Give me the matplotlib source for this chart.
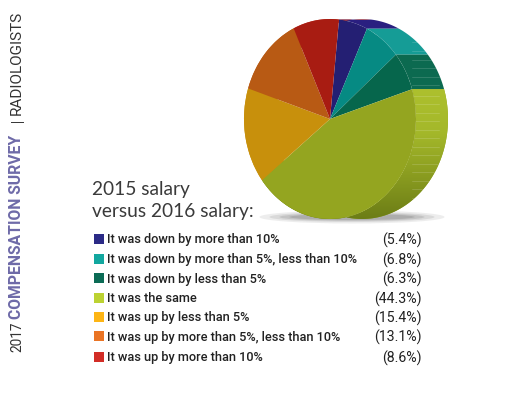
import numpy as np
import matplotlib
matplotlib.use("Agg")
import matplotlib.pyplot as plt
from matplotlib.patches import Polygon, Ellipse, Rectangle

labels = ["It was down by more than 10%",
          "It was down by more than 5%, less than 10%",
          "It was down by less than 5%",
          "It was the same",
          "It was up by less than 5%",
          "It was up by more than 5%, less than 10%",
          "It was up by more than 10%"]
values = [5.4, 6.8, 6.3, 44.3, 15.4, 13.1, 8.6]
value_labels = ["(5.4%)", "(6.8%)", "(6.3%)", "(44.3%)", "(15.4%)", "(13.1%)", "(8.6%)"]
legend_colors = ["#2b2a86", "#12a79f", "#0b6b55", "#bcd232", "#fdb515", "#ea7424", "#d22d26"]
face_colors = ["#241f73", "#068a83", "#06664c", "#94a520", "#c8900c", "#b85a14", "#a81c12"]
side_colors = ["#2a1f80", "#159c96", "#0c6a50", "#94a520", "#c8900c", "#b85a14", "#c0392b"]

W, H = 528, 393
cx, cy, rx, ry = 330, 119, 86, 100
depth = 32 / rx
start = 84

fig = plt.figure(figsize=(W / 100, H / 100), dpi=100)

# page axes, in pixels
ax = fig.add_axes([0, 0, 1, 1])
ax.set_xlim(0, W)
ax.set_ylim(H, 0)
ax.axis("off")

# shadow below the pie
for w, h, a in zip([185, 165, 145, 125], [13, 10, 8, 6], [0.1, 0.13, 0.16, 0.2]):
    ax.add_patch(Ellipse((352, 217), w, h, color="#555555", alpha=a, lw=0))

# pie axes, radius 1 is the face ellipse
pax = fig.add_axes([0, 0, 1, 1], facecolor="none")

edges = start - 360 * np.cumsum([0] + values) / sum(values)
for i in range(len(values)):
    t = np.radians(np.linspace(edges[i], edges[i + 1], 100))
    x, y = np.cos(t), np.sin(t)
    pts = np.vstack([np.c_[x, y], np.c_[x + depth, y][::-1]])
    poly = Polygon(pts, closed=True, color=side_colors[i], lw=0)
    pax.add_patch(poly)
    # the lime side gets darker towards the bottom
    if i == 3:
        grad = np.linspace(0, 1, 200).reshape(-1, 1)
        cmap = matplotlib.colors.LinearSegmentedColormap.from_list(
            "lime", ["#adc02e", "#a4b82a", "#8a9c20", "#6c7d16"])
        im = pax.imshow(grad, extent=[-1, 1 + depth, -1, 0.3], cmap=cmap,
                        origin="upper", aspect="auto", zorder=1)
        im.set_clip_path(poly)
    # faint light dashes on the side
    if i in (1, 2, 3):
        for yy in np.arange(y.min() + 0.04, y.max(), 0.085):
            ln, = pax.plot([0.95, 1 + depth - 0.1], [yy, yy], color="white", lw=0.4,
                           alpha=0.25, zorder=1.5)
            ln.set_clip_path(poly)

wedges, _ = pax.pie(values, colors=face_colors, startangle=start, counterclock=False,
                    wedgeprops={"linewidth": 0})
for w in wedges:
    w.set_zorder(2)
pax.set_aspect("auto")
pax.set_xlim((0 - cx) / rx, (W - cx) / rx)
pax.set_ylim((cy - H) / ry, cy / ry)
pax.axis("off")

# title
ax.text(92, 190, "2015 salary", fontsize=13.8, family=["Lato", "DejaVu Sans"],
        color="#3a3a3a", va="center")
ax.text(92, 211, "versus 2016 salary:", fontsize=13.8, family=["Lato", "DejaVu Sans"],
        color="#3a3a3a", va="center")

# legend
rows = [239, 259, 278, 298, 317, 336, 357]
for i in range(len(labels)):
    ax.add_patch(Rectangle((94, rows[i] - 5), 10, 10, color=legend_colors[i], lw=0))
    ax.text(107, rows[i] - 0.5, labels[i], fontsize=9.2, color="#222222", va="center_baseline",
            family=["Roboto", "DejaVu Sans"], weight="medium")
    ax.text(422, rows[i] - 0.5, value_labels[i], fontsize=10.2, color="#222222", va="center_baseline",
            ha="right", family=["Roboto", "DejaVu Sans"])

# running head
ax.text(17, 352, "2017", rotation=90, fontsize=9.8, color="#333333", va="bottom", ha="center",
        family=["Roboto", "DejaVu Sans"])
ax.text(17, 319, "COMPENSATION SURVEY", rotation=90, fontsize=11.3, color="#6e6aa8", va="bottom",
        ha="center", weight="bold", family=["Roboto", "DejaVu Sans"])
ax.plot([11, 23], [122, 122], color="#333333", lw=0.7)
ax.text(17, 115, "RADIOLOGISTS", rotation=90, fontsize=11, color="#333333", va="bottom",
        ha="center", family=["Roboto", "DejaVu Sans"])

fig.savefig("out.png", dpi=100)
